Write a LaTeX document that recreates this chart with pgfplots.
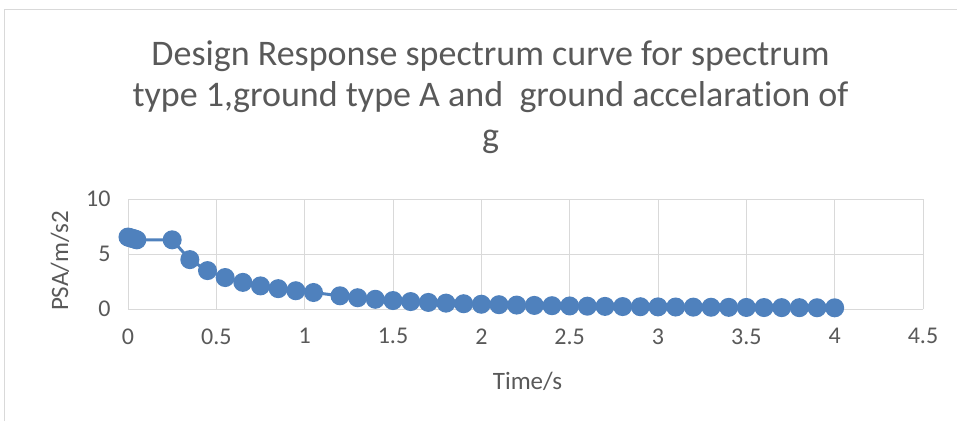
\documentclass[border=0pt]{standalone}
\usepackage{fontspec}
\setmainfont{Carlito}[Ligatures={NoCommon}]
\usepackage{pgfplots}
\pgfplotsset{compat=1.18}
\definecolor{ser}{RGB}{79,129,189}
\definecolor{grd}{RGB}{217,217,217}
\definecolor{txt}{RGB}{89,89,89}
\begin{document}
\begin{tikzpicture}[x=1pt,y=1pt]
\path[use as bounding box] (0,0) rectangle (957,421);
\draw[grd,line width=1pt] (4.5,0) -- (4.5,411.5) -- (957,411.5);
\node[txt,anchor=base,font=\fontsize{36}{43}\selectfont] at (490.5,355) {Design Response spectrum curve for spectrum};
\node[txt,anchor=base,font=\fontsize{36}{43}\selectfont] at (490.5,314) {type 1,ground type A and\ \ ground accelaration of};
\node[txt,anchor=base,font=\fontsize{36}{43}\selectfont] at (490.5,273) {g};
\node[txt,font=\fontsize{25}{30}\selectfont] at (527.5,40) {Time/s};
\node[txt,rotate=90,font=\fontsize{25}{30}\selectfont] at (60,160) {PSA/m/s2};
\begin{axis}[
  at={(128pt,112pt)}, anchor=south west,
  scale only axis, width=795pt, height=110pt,
  xmin=0, xmax=4.5, ymin=0, ymax=10,
  xtick={0,0.5,...,4.5}, ytick={0,5,10},
  xticklabels={0,0.5,1,1.5,2,2.5,3,3.5,4,4.5},
  grid=major, grid style={grd,line width=1pt},
  axis line style={draw=none},
  x axis line style={draw=grd,line width=1pt},
  tick style={draw=none},
  ticklabel style={txt,font=\fontsize{24}{29}\selectfont},
  /pgf/number format/assume math mode=true,
  xticklabel style={yshift=-16pt},
  yticklabel style={xshift=-14pt},
  clip=false,
]
\addplot[ser, line width=3pt, mark=*, mark size=8pt, mark options={fill=ser,draw=ser}] coordinates {
(0,6.54) (0.01,6.49) (0.02,6.44) (0.03,6.40) (0.04,6.35) (0.05,6.29)
(0.25,6.29) (0.35,4.49) (0.45,3.49) (0.55,2.86) (0.65,2.42) (0.75,2.10)
(0.85,1.85) (0.95,1.66) (1.05,1.50) (1.2,1.20) (1.3,1.024) (1.4,0.883)
(1.5,0.769) (1.6,0.676) (1.7,0.599) (1.8,0.534) (1.9,0.479) (2.0,0.433)
(2.1,0.392) (2.2,0.357) (2.3,0.327) (2.4,0.300) (2.5,0.277) (2.6,0.256)
(2.7,0.237) (2.8,0.221) (2.9,0.206) (3.0,0.192) (3.1,0.180) (3.2,0.169)
(3.3,0.159) (3.4,0.150) (3.5,0.141) (3.6,0.133) (3.7,0.126) (3.8,0.120)
(3.9,0.114) (4.0,0.108)
};
\end{axis}
\end{tikzpicture}
\end{document}
